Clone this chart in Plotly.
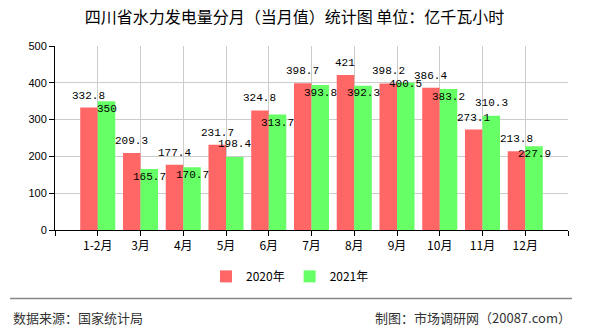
import plotly.graph_objects as go

categories = ["1-2月", "3月", "4月", "5月", "6月", "7月", "8月", "9月", "10月", "11月", "12月"]
values_2020 = [332.8, 209.3, 177.4, 231.7, 324.8, 398.7, 421, 398.2, 386.4, 273.1, 213.8]
values_2021 = [350, 165.7, 170.7, 198.4, 313.7, 393.8, 392.3, 400.5, 383.2, 310.3, 227.9]
series_names = ["2020年", "2021年"]
y_ticks = [0, 100, 200, 300, 400, 500]

# label placement (pixel shift of each value label from its bar top; style only)
label_shift_2020 = [12] * len(categories)
label_shift_2021 = [-8, -8, -8, 13, -8, -8, -7, -1, -8, 13, -8]

x_pos = list(range(len(categories)))
CJK = "Noto Sans CJK SC"
label_font = dict(family="Liberation Mono, DejaVu Sans Mono", size=11, color="#000000")

# plot area in pixels
PL, PR, PT, PB = 55, 568, 46, 229.7
PW, PH = PR - PL, PB - PT

def px_x(px):
    return (px - PL) / PW

def px_y(py):
    return (PB - py) / PH

def fmt(v):
    return f"{v:g}"

BARGAP = 0.18
half_bar = (1 - BARGAP) / 4  # centre offset of each bar inside its group

fig = go.Figure()
fig.add_trace(go.Bar(
    x=x_pos, y=values_2020, name=series_names[0],
    marker=dict(color="#FF6666", line=dict(width=0)),
    hoverinfo="skip",
))
fig.add_trace(go.Bar(
    x=x_pos, y=values_2021, name=series_names[1],
    marker=dict(color="#66FF66", line=dict(width=0)),
    hoverinfo="skip",
))

for p, v, s in zip(x_pos, values_2020, label_shift_2020):
    fig.add_annotation(x=p - half_bar, y=v, xref="x", yref="y", text=fmt(v),
                       showarrow=False, xanchor="center", yanchor="middle",
                       yshift=s, font=label_font)
for p, v, s in zip(x_pos, values_2021, label_shift_2021):
    fig.add_annotation(x=p + half_bar, y=v, xref="x", yref="y", text=fmt(v),
                       showarrow=False, xanchor="center", yanchor="middle",
                       yshift=s, font=label_font)

fig.update_layout(
    width=590, height=330,
    margin=dict(l=PL, r=590 - PR, t=PT, b=330 - PB),
    paper_bgcolor="white", plot_bgcolor="white",
    barmode="group", bargap=BARGAP, bargroupgap=0,
    showlegend=True,
    legend=dict(orientation="h", xref="paper", yref="paper",
                x=px_x(290), xanchor="center", y=px_y(276), yanchor="middle",
                font=dict(family=CJK, size=12, color="#000000"),
                tracegroupgap=0),
    title=dict(text="四川省水力发电量分月（当月值）统计图 单位：亿千瓦小时",
               x=294.5 / 590, xanchor="center", y=1 - 17.5 / 330, yanchor="middle",
               xref="container", yref="container",
               font=dict(family=CJK, size=16, color="#000000")),
    font=dict(family=CJK, size=12, color="#000000"),
)

fig.update_xaxes(
    range=[-1, len(categories)],
    tickmode="array",
    tickvals=[-1] + x_pos + [len(categories)],
    ticktext=[""] + categories + [""],
    showgrid=True, gridcolor="#CCCCCC", gridwidth=1,
    showline=True, linecolor="#000000", linewidth=1,
    ticks="outside", ticklen=5, tickcolor="#000000",
    tickfont=dict(family=CJK, size=12, color="#000000"),
    zeroline=False, automargin=False,
)
fig.update_yaxes(
    range=[0, 500],
    tickmode="array", tickvals=y_ticks,
    showgrid=True, gridcolor="#CCCCCC", gridwidth=1,
    showline=True, linecolor="#000000", linewidth=1,
    ticks="outside", ticklen=5, tickcolor="#000000",
    tickfont=dict(family="Liberation Sans, Arial", size=11, color="#000000"),
    zeroline=False, automargin=False,
)

fig.add_shape(type="line", xref="paper", yref="paper",
              x0=px_x(10), x1=px_x(572), y0=px_y(298), y1=px_y(298),
              line=dict(color="#888888", width=1.5))
fig.add_annotation(text="数据来源：国家统计局", xref="paper", yref="paper",
                   x=px_x(11), xanchor="left", y=px_y(317), yanchor="middle",
                   showarrow=False, font=dict(family=CJK, size=13, color="#333333"))
fig.add_annotation(text="制图：市场调研网（20087.com）", xref="paper", yref="paper",
                   x=px_x(573), xanchor="right", y=px_y(317), yanchor="middle",
                   showarrow=False, font=dict(family=CJK, size=13, color="#333333"))

fig.write_html("out.html")
